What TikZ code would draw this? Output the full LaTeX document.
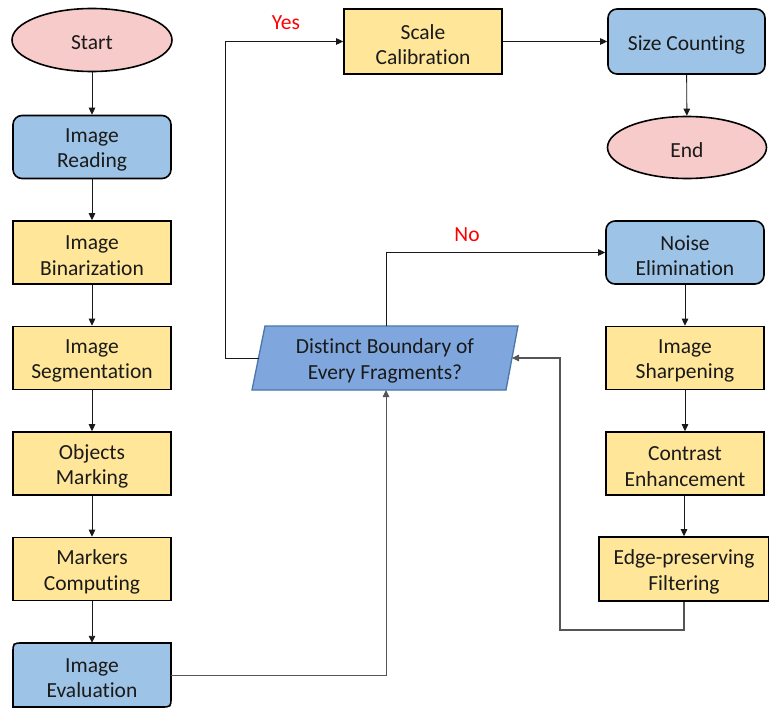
\documentclass[tikz,border=0pt]{standalone}
\usepackage{fontspec}
\setmainfont{Carlito}[Ligatures={NoCommon}]
\usetikzlibrary{arrows.meta,shapes.geometric}
\definecolor{pinkfill}{HTML}{F8CBCB}
\definecolor{bluefill}{HTML}{9DC3E6}
\definecolor{yellowfill}{HTML}{FFE699}
\definecolor{decfill}{HTML}{7FA7DD}
\definecolor{decborder}{HTML}{4A76A8}
\definecolor{txt}{HTML}{1A1A1A}
\definecolor{linegray}{HTML}{555555}
\begin{document}
\begin{tikzpicture}[x=1pt,y=-1pt,
  every node/.style={font=\fontsize{21.5}{25.5}\selectfont, text=txt, align=center},
  boxtext/.style={label={[yshift=-3pt]center:{#1}}},
  base/.style={draw=black, line width=1.6pt, minimum width=158pt, minimum height=63pt, inner sep=0pt},
  term/.style={base, ellipse, fill=pinkfill, minimum width=160pt, minimum height=63pt},
  procbox/.style={base, fill=yellowfill},
  bluebox/.style={base, fill=bluefill, rounded corners=9pt},
  conn/.style={draw=black!90, line width=0.9pt, -{Triangle[length=7pt,width=6.5pt]}},
  fbconn/.style={draw=linegray, line width=1.1pt, -{Triangle[length=7pt,width=6.5pt]}},
  lbl/.style={text=red}
]
\useasboundingbox (0,0) rectangle (769,709);
\fill[white] (0,0) rectangle (769,709);

% left column
\node[term, boxtext={Start}] (start) at (92,40) {};
\node[bluebox, boxtext={Image\\Reading}] (read) at (92,147) {};
\node[procbox, boxtext={Image\\Binarization}] (bin) at (92,252.5) {};
\node[procbox, boxtext={Image\\Segmentation}] (seg) at (92,358) {};
\node[procbox, boxtext={Objects\\Marking}] (mark) at (92,463.5) {};
\node[procbox, boxtext={Markers\\Computing}] (comp) at (92,569) {};
% Image Evaluation: rounded top-left and bottom-right corners
\draw[fill=bluefill, draw=black, line width=1.6pt]
  (171,643) -- (23,643) .. controls (13,643) .. (13,653) -- (13,707)
  -- (161,707) .. controls (171,707) .. (171,697) -- cycle;
\node[minimum width=158pt, minimum height=64pt, inner sep=0pt, boxtext={Image\\Evaluation}] (eval) at (92,675) {};

% decision parallelogram
\coordinate (pTL) at (265,326);
\coordinate (pTR) at (518,326);
\coordinate (pBR) at (506,390);
\coordinate (pBL) at (252,390);
\draw[fill=decfill, draw=decborder, line width=1.3pt] (pTL) -- (pTR) -- (pBR) -- (pBL) -- cycle;
\node (dec) at (385,361) {Distinct Boundary of\\Every Fragments?};
\coordinate (decL) at (258.5,358);
\coordinate (decR) at (512,358);
\coordinate (decT) at (386,326);
\coordinate (decB) at (386,390);

% top row
\node[procbox, minimum height=65pt, boxtext={Scale\\Calibration}] (scale) at (423,41.5) {};
\node[bluebox, minimum width=157pt, minimum height=65pt, boxtext={Size Counting}] (size) at (686.5,41.5) {};
\node[term, minimum width=159pt, minimum height=62pt, boxtext={End}] (end) at (687,147.5) {};

% right column
\node[bluebox, boxtext={Noise\\Elimination}] (noise) at (685,252.5) {};
\node[procbox, boxtext={Image\\Sharpening}] (sharp) at (685,358) {};
\node[procbox, boxtext={Contrast\\Enhancement}] (contr) at (685,463.5) {};
\node[procbox, minimum width=170pt, minimum height=64pt, boxtext={Edge-preserving\\Filtering}] (edge) at (684,569) {};

% connectors left column
\draw[conn] (start) -- (read);
\draw[conn] (read) -- (bin);
\draw[conn] (bin) -- (seg);
\draw[conn] (seg) -- (mark);
\draw[conn] (mark) -- (comp);
\draw[conn] (comp) -- (eval.north);

% evaluation to decision
\draw[conn, draw=linegray] (eval.east) -| (decB);

% yes branch
\coordinate (yesc) at (225,358);
\draw[conn] (decL) -- (yesc) |- (scale.west);
\node[lbl] (yes) at (286,23) {Yes};
\draw[conn] (scale) -- (size);
\draw[conn] (size) -- (end);

% no branch
\draw[conn] (decT) |- (noise.west);
\node[lbl] (no) at (467,235) {No};
\draw[conn] (noise) -- (sharp);
\draw[conn] (sharp) -- (contr);
\draw[conn] (contr.south -| edge.north) -- (edge.north);

% feedback loop
\coordinate (fb1) at (684,630);
\coordinate (fb2) at (560,630);
\draw[fbconn] (edge.south) -- (fb1) -- (fb2) |- (decR);
\end{tikzpicture}
\end{document}
